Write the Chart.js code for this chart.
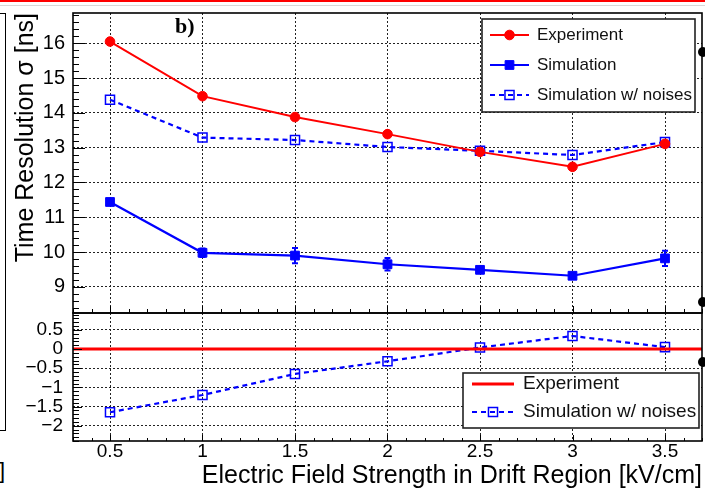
<!DOCTYPE html>
<html>
<head>
<meta charset="utf-8">
<script src="https://cdn.jsdelivr.net/npm/chart.js"></script>
<style>
  html, body { margin: 0; padding: 0; background: #fff; }
  #wrap { position: relative; width: 705px; height: 489px; overflow: hidden; background: #fff; }
  #wrap canvas { position: absolute; left: 0; top: 0; }
  .edge { position: absolute; }
</style>
</head>
<body>
<div id="wrap">
  <!-- bits of the neighbouring panels -->
  <div class="edge" style="left:0;top:0;width:705px;height:2px;background:#f00"></div>
  <div class="edge" style="left:0;top:5px;width:705px;height:1px;background:#d8d8d8"></div>
  <div class="edge" style="left:-3px;top:13px;width:7px;height:416px;border:1.5px solid #000"></div>
  <div class="edge" style="left:-1px;top:458px;font:22px 'Liberation Sans',Arial,sans-serif;color:#000">]</div>
  <div class="edge" style="left:698px;top:47px;width:10px;height:10px;border-radius:50%;background:#000"></div>
  <div class="edge" style="left:698px;top:297px;width:10px;height:10px;border-radius:50%;background:#000"></div>
  <div class="edge" style="left:698px;top:357px;width:10px;height:10px;border-radius:50%;background:#000"></div>

  <canvas id="sigmaChart" width="705" height="489"></canvas>
  <canvas id="diffChart" width="705" height="489"></canvas>
</div>
<script>
// drift field points [kV/cm]
const fieldKV = [0.5, 1.0, 1.5, 2.0, 2.5, 3.0, 3.5];
// time resolution sigma [ns]
const sigmaExperiment = [16.05, 14.48, 13.88, 13.39, 12.88, 12.45, 13.11];
const sigmaSimulation = [11.44, 9.98, 9.90, 9.65, 9.49, 9.32, 9.82];
const sigmaSimulationErr = [0.06, 0.12, 0.22, 0.18, 0.06, 0.06, 0.22];
const sigmaSimNoise = [14.38, 13.29, 13.22, 13.02, 12.91, 12.79, 13.16];
// simulation w/ noises minus experiment [ns]
const diffSimNoise = [-1.65, -1.20, -0.65, -0.32, 0.04, 0.34, 0.05];

const fieldRange = [0.3, 3.7];
const sigmaRange = [8.25, 16.87];
const diffRange = [-2.4, 0.94];
const fieldTicks = [0.5, 1, 1.5, 2, 2.5, 3, 3.5];
const sigmaTicks = [9, 10, 11, 12, 13, 14, 15, 16];
const diffTicks = [-2, -1.5, -1, -0.5, 0, 0.5];
const sigmaLabels = ['Experiment', 'Simulation', 'Simulation w/ noises'];
const diffLabels = ['Experiment', 'Simulation w/ noises'];

const FONT = "'Liberation Sans', Arial, sans-serif";
const RED = '#ff0000';
const BLUE = '#0000ff';

const pts = ys => fieldKV.map((x, i) => ({ x: x, y: ys[i] }));
const minus = v => (v < 0 ? '\u2212' + Math.abs(v) : String(v));

// loop over minor tick positions, flag the major ones
function eachTick(min, max, step, major, fn) {
  const k0 = Math.ceil(min / step - 1e-6), k1 = Math.floor(max / step + 1e-6);
  for (let k = k0; k <= k1; k++) {
    const v = k * step;
    const r = v / major;
    fn(v, Math.abs(r - Math.round(r)) < 1e-6);
  }
}

// ROOT style frame with inward ticks
const rootAxes = {
  id: 'rootAxes',
  afterDatasetsDraw(chart, args, o) {
    const { ctx, chartArea: a } = chart;
    const xs = chart.scales.x, ys = chart.scales.y;
    ctx.save();
    ctx.strokeStyle = '#000';
    ctx.lineWidth = 1;
    ctx.beginPath();
    eachTick(ys.min, ys.max, o.yMinor, o.yMajor, (v, major) => {
      const py = Math.round(ys.getPixelForValue(v)) + 0.5;
      ctx.moveTo(a.left, py);
      ctx.lineTo(a.left + (major ? o.yMajorLen : o.yMinorLen), py);
    });
    eachTick(xs.min, xs.max, o.xMinor, o.xMajor, (v, major) => {
      const px = Math.round(xs.getPixelForValue(v)) + 0.5;
      ctx.moveTo(px, a.bottom);
      ctx.lineTo(px, a.bottom - (major ? o.xMajorLen : o.xMinorLen));
    });
    ctx.stroke();
    ctx.lineWidth = 1.6;
    ctx.strokeRect(a.left, a.top, a.right - a.left, a.bottom - a.top);
    if (o.tag) {
      ctx.fillStyle = '#000';
      ctx.font = "bold 22px 'Liberation Serif', serif";
      ctx.textBaseline = 'alphabetic';
      ctx.fillText(o.tag, a.left + 102, a.top + 20);
    }
    ctx.restore();
  }
};

// vertical error bars with small caps
const errorBars = {
  id: 'errorBars',
  beforeDatasetsDraw(chart) {
    const { ctx } = chart;
    const ys = chart.scales.y;
    chart.data.datasets.forEach((ds, i) => {
      if (!ds.errorY) return;
      const meta = chart.getDatasetMeta(i);
      ctx.save();
      ctx.strokeStyle = ds.borderColor;
      ctx.lineWidth = 2;
      meta.data.forEach((pt, j) => {
        const v = ds.data[j].y, e = ds.errorY[j];
        const y1 = ys.getPixelForValue(v - e), y2 = ys.getPixelForValue(v + e);
        ctx.beginPath();
        ctx.moveTo(pt.x, y1); ctx.lineTo(pt.x, y2);
        ctx.moveTo(pt.x - 3, y1); ctx.lineTo(pt.x + 3, y1);
        ctx.moveTo(pt.x - 3, y2); ctx.lineTo(pt.x + 3, y2);
        ctx.stroke();
      });
      ctx.restore();
    });
  }
};

// boxed legend built from the datasets
const rootLegend = {
  id: 'rootLegend',
  afterDraw(chart, args, o) {
    const { ctx, chartArea: a } = chart;
    const x0 = a.right - o.right - o.width, y0 = a.top + o.top;
    ctx.save();
    ctx.fillStyle = '#fff';
    ctx.fillRect(x0, y0, o.width, o.height);
    ctx.strokeStyle = '#222';
    ctx.lineWidth = 1.6;
    ctx.strokeRect(x0, y0, o.width, o.height);
    chart.data.datasets.forEach((ds, i) => {
      const cy = y0 + o.firstRow + i * o.rowGap;
      const sx = x0 + o.symLeft, ex = x0 + o.symRight, cx = (sx + ex) / 2;
      ctx.strokeStyle = ds.borderColor;
      ctx.lineWidth = ds.borderWidth;
      ctx.setLineDash(ds.borderDash || []);
      ctx.beginPath();
      ctx.moveTo(sx, cy); ctx.lineTo(ex, cy);
      ctx.stroke();
      ctx.setLineDash([]);
      if (ds.pointRadius > 0) {
        ctx.fillStyle = ds.pointBackgroundColor;
        ctx.strokeStyle = ds.pointBorderColor;
        ctx.lineWidth = ds.pointBorderWidth;
        Chart.helpers.drawPoint(ctx, {
          pointStyle: ds.pointStyle, rotation: 0,
          radius: ds.pointRadius, borderWidth: ds.pointBorderWidth
        }, cx, cy);
      }
      ctx.fillStyle = '#111';
      ctx.font = o.fontSize + 'px ' + FONT;
      ctx.textBaseline = 'middle';
      ctx.textAlign = 'left';
      ctx.fillText(ds.label, x0 + o.textLeft, cy);
    });
    ctx.restore();
  }
};

Chart.register(rootAxes, errorBars, rootLegend);

const gridStyle = { color: '#222', lineWidth: 1, drawTicks: false };
const noPad = s => { s.paddingTop = 0; s.paddingBottom = 0; s.paddingLeft = 0; s.paddingRight = 0; };

new Chart(document.getElementById('sigmaChart'), {
  type: 'line',
  data: {
    datasets: [
      {
        label: sigmaLabels[0], data: pts(sigmaExperiment),
        borderColor: RED, borderWidth: 2,
        pointStyle: 'circle', pointRadius: 4.8,
        pointBackgroundColor: RED, pointBorderColor: RED, pointBorderWidth: 1
      },
      {
        label: sigmaLabels[1], data: pts(sigmaSimulation), errorY: sigmaSimulationErr,
        borderColor: BLUE, borderWidth: 2.2,
        pointStyle: 'rect', pointRadius: 6.2,
        pointBackgroundColor: BLUE, pointBorderColor: BLUE, pointBorderWidth: 1
      },
      {
        label: sigmaLabels[2], data: pts(sigmaSimNoise),
        borderColor: BLUE, borderWidth: 2.2, borderDash: [5, 4],
        pointStyle: 'rect', pointRadius: 6.4,
        pointBackgroundColor: 'rgba(0,0,0,0)', pointBorderColor: BLUE, pointBorderWidth: 1.5
      }
    ]
  },
  options: {
    responsive: false,
    animation: false,
    events: [],
    layout: { autoPadding: false, padding: { top: 13, right: 3, bottom: 176, left: 0 } },
    scales: {
      x: {
        type: 'linear', min: fieldRange[0], max: fieldRange[1],
        afterBuildTicks: s => { s.ticks = fieldTicks.map(v => ({ value: v })); },
        afterFit: s => { s.height = 0; noPad(s); },
        ticks: { display: false },
        grid: gridStyle,
        border: { display: false, dash: [2, 2] }
      },
      y: {
        min: sigmaRange[0], max: sigmaRange[1],
        afterBuildTicks: s => { s.ticks = sigmaTicks.map(v => ({ value: v })); },
        afterFit: s => { s.width = 73; noPad(s); },
        ticks: { color: '#000', padding: 8, font: { family: FONT, size: 20, lineHeight: 1 }, callback: minus },
        grid: gridStyle,
        border: { display: false, dash: [2, 2] },
        title: {
          display: true, text: 'Time Resolution \u03c3 [ns]', align: 'end', color: '#000',
          font: { family: FONT, size: 25, lineHeight: 1 }, padding: { top: 14, bottom: 0 }
        }
      }
    },
    plugins: {
      legend: { display: false },
      tooltip: { enabled: false },
      rootAxes: { yMinor: 0.2, yMajor: 1, yMajorLen: 12, yMinorLen: 6, xMinor: 0.1, xMajor: 0.5, xMajorLen: 7, xMinorLen: 4, tag: 'b)' },
      rootLegend: { right: 7, width: 213, top: 6, height: 93, firstRow: 16, rowGap: 30, symLeft: 8, symRight: 47, textLeft: 55, fontSize: 17 }
    }
  }
});

new Chart(document.getElementById('diffChart'), {
  type: 'line',
  data: {
    datasets: [
      {
        label: diffLabels[0],
        data: fieldRange.map(x => ({ x: x, y: 0 })),
        borderColor: RED, borderWidth: 3.2, pointRadius: 0
      },
      {
        label: diffLabels[1], data: pts(diffSimNoise),
        borderColor: BLUE, borderWidth: 2.2, borderDash: [5, 4],
        pointStyle: 'rect', pointRadius: 6.4,
        pointBackgroundColor: 'rgba(0,0,0,0)', pointBorderColor: BLUE, pointBorderWidth: 1.5
      }
    ]
  },
  options: {
    responsive: false,
    animation: false,
    events: [],
    layout: { autoPadding: false, padding: { top: 313, right: 3, bottom: 0, left: 0 } },
    scales: {
      x: {
        type: 'linear', min: fieldRange[0], max: fieldRange[1],
        afterBuildTicks: s => { s.ticks = fieldTicks.map(v => ({ value: v })); },
        afterFit: s => { s.height = 48; noPad(s); },
        ticks: { color: '#000', padding: 1, autoSkip: false, maxRotation: 0, font: { family: FONT, size: 19, lineHeight: 1 }, callback: minus },
        grid: gridStyle,
        border: { display: false, dash: [2, 2] },
        title: {
          display: true, text: 'Electric Field Strength in Drift Region [kV/cm]', align: 'end', color: '#000',
          font: { family: FONT, size: 25, lineHeight: 1 }, padding: { top: 0, bottom: 0 }
        }
      },
      y: {
        min: diffRange[0], max: diffRange[1],
        afterBuildTicks: s => { s.ticks = diffTicks.map(v => ({ value: v })); },
        afterFit: s => { s.width = 73; noPad(s); },
        ticks: { color: '#000', padding: 10, font: { family: FONT, size: 19, lineHeight: 1 }, callback: minus },
        grid: gridStyle,
        border: { display: false, dash: [2, 2] }
      }
    },
    plugins: {
      legend: { display: false },
      tooltip: { enabled: false },
      rootAxes: { yMinor: 0.1, yMajor: 0.5, yMajorLen: 9, yMinorLen: 6, xMinor: 0.1, xMajor: 0.5, xMajorLen: 6, xMinorLen: 3 },
      rootLegend: { right: 3, width: 236, top: 60, height: 55, firstRow: 11, rowGap: 28, symLeft: 9, symRight: 51, textLeft: 60, fontSize: 19 }
    }
  }
});
</script>
</body>
</html>
